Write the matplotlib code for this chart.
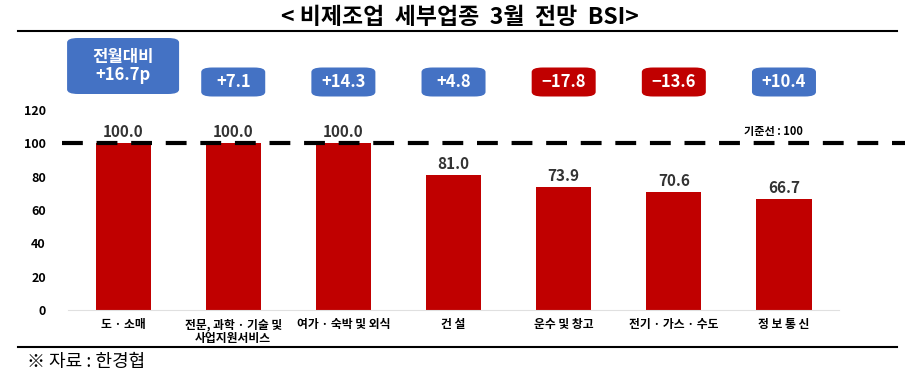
import matplotlib.pyplot as plt
from matplotlib.patches import FancyBboxPatch

plt.rcParams['font.family'] = ['Noto Sans CJK KR', 'DejaVu Sans']

categories = ['도 · 소매', '전문, 과학 · 기술 및\n사업지원서비스', '여가 · 숙박 및 외식',
              '건 설', '운수 및 창고', '전기 · 가스 · 수도', '정 보 통 신']
bsi = [100.0, 100.0, 100.0, 81.0, 73.9, 70.6, 66.7]
change = [16.7, 7.1, 14.3, 4.8, -17.8, -13.6, 10.4]
yticks = [0, 20, 40, 60, 80, 100, 120]

BLUE = '#4472C4'
RED = '#C00000'

fig = plt.figure(figsize=(9.19, 3.77), dpi=100)
ax = fig.add_axes([0.074, 0.178, 0.839, 0.53])

x = range(len(categories))
ax.bar(x, bsi, width=0.5, color=RED, zorder=2)
for i, v in enumerate(bsi):
    ax.text(i, v + 2, f'{v:.1f}', ha='center', va='bottom', fontsize=11, fontweight='bold', color='#333333')

ax.set_xlim(-0.5, 6.5)
ax.set_ylim(0, 120)
ax.set_yticks(yticks)
ax.set_yticklabels([str(t) for t in yticks], fontsize=9, fontweight='bold')
ax.set_xticks(list(x))
ax.set_xticklabels(categories, fontsize=8.5, fontweight='bold', linespacing=1.1)
ax.tick_params(length=0, pad=6)
ax.tick_params(axis='y', pad=16)
for s in ['top', 'right', 'left']:
    ax.spines[s].set_visible(False)
ax.spines['bottom'].set_color('#e0e0e0')

# baseline 100
ax.plot([-0.55, 7.1], [100, 100], color='black', lw=3, ls=(0, (5, 3.3)), clip_on=False, zorder=3)
ax.text(5.9, 103, '기준선 : 100', ha='center', va='bottom', fontsize=8, fontweight='bold')

# change boxes (figure pixel coords)
for i, c in enumerate(change):
    color = BLUE if c > 0 else RED
    xc = fig.transFigure.inverted().transform(ax.transData.transform((i, 0)))[0]
    if i == 0:
        w, h, yc = 112 / 919, 56 / 377, (377 - 66) / 377
        label = f'전월대비\n+{c}p'
    else:
        w, h, yc = 64 / 919, 29 / 377, (377 - 82) / 377
        label = f'+{c}' if c > 0 else f'\u2212{abs(c)}'
    box = FancyBboxPatch((xc - w / 2, yc - h / 2), w, h, boxstyle='round,pad=0,rounding_size=0.012',
                         transform=fig.transFigure, facecolor=color, edgecolor='none')
    fig.patches.append(box)
    fig.text(xc, yc, label, ha='center', va='center', color='white', fontsize=12,
             fontweight='bold', linespacing=1.0)

fig.text(0.5, (377 - 17) / 377, '< 비제조업  세부업종  3월  전망  BSI>', ha='center', va='center',
         fontsize=16.5, fontweight='bold')
fig.add_artist(plt.Line2D([18 / 919, 897 / 919], [(377 - 31) / 377] * 2, color='black', lw=1.5))
fig.add_artist(plt.Line2D([18 / 919, 897 / 919], [(377 - 347) / 377] * 2, color='black', lw=1.5))
fig.text(27 / 919, (377 - 362) / 377, '※ 자료 : 한경협', ha='left', va='center', fontsize=13)

fig.savefig('out.png', dpi=100)
